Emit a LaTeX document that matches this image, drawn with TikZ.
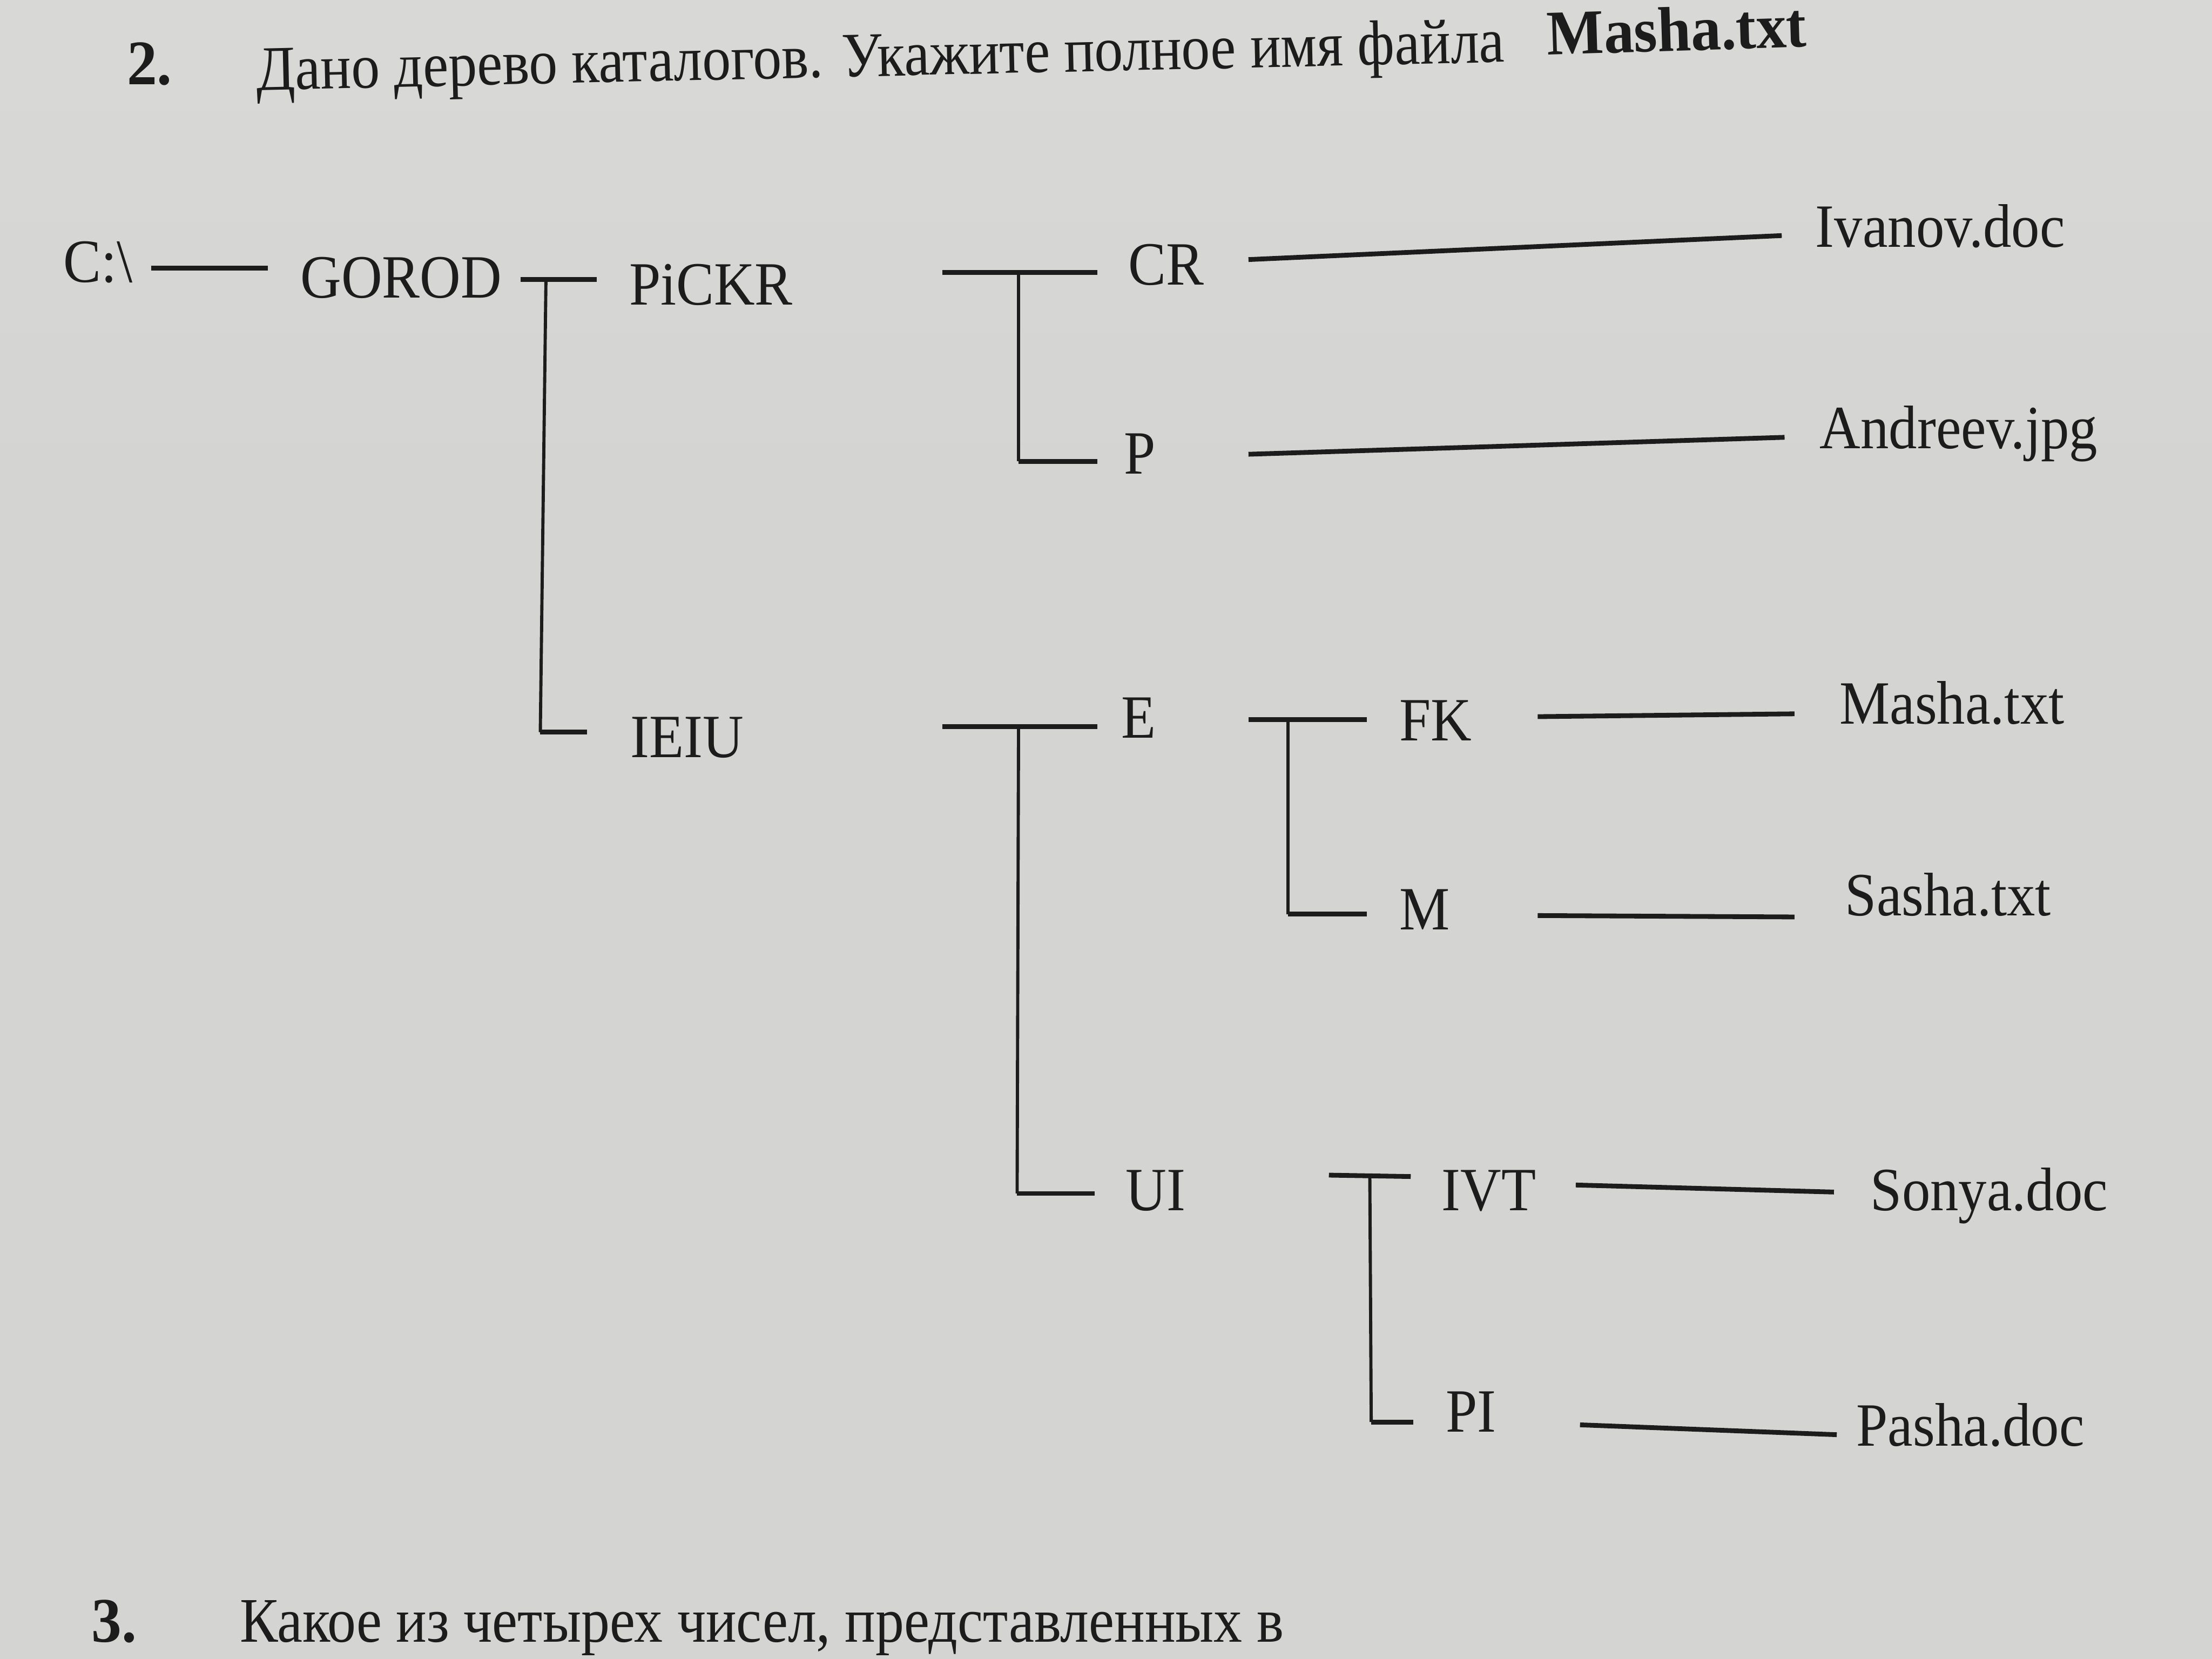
\documentclass[tikz,border=0pt]{standalone}
\usepackage{fontspec}
\setmainfont[FakeStretch=0.92]{Liberation Serif}
\newfontfamily\titlefont[FakeStretch=0.90]{Liberation Serif}
\newfontfamily\titlebold[FakeStretch=0.95]{Liberation Serif}
\definecolor{ink}{RGB}{28,28,28}
\definecolor{ptop}{RGB}{224,224,223}
\definecolor{pmid}{RGB}{212,212,211}
\definecolor{pbot}{RGB}{170,170,170}
\pgfdeclareverticalshading{paper}{100bp}{color(0bp)=(pbot); color(10bp)=(pmid); color(60bp)=(pmid); color(100bp)=(ptop)}
\tikzset{
  lbl/.style={anchor=base west, inner sep=0pt, outer sep=0pt, text=ink, font=\fontsize{31}{36}\selectfont},
  ttl/.style={anchor=base west, inner sep=0pt, outer sep=0pt, text=ink, font=\titlefont\fontsize{32}{38}\selectfont},
  ttlb/.style={anchor=base west, inner sep=0pt, outer sep=0pt, text=ink, font=\titlebold\bfseries\fontsize{32}{38}\selectfont},
  hbar/.style={draw=ink, line width=2.4pt},
  vbar/.style={draw=ink, line width=1.6pt},
}
\begin{document}
\begin{tikzpicture}[x=0.025cm, y=-0.025cm]
\useasboundingbox (0,0) rectangle (1568,1176);
\shade[shading=paper] (0,0) rectangle (1568,1176);
\begin{scope}
\clip (0,0) rectangle (1568,1176);
% title
\node[ttlb] (num2) at (90,60) {2.};
\node[ttl, rotate=1.3] (title) at (182,64) {Дано дерево каталогов. Укажите полное имя файла};
\node[ttlb, rotate=1.8] (titlefile) at (1097,39) {Masha.txt};
% bottom line of the next task
\node[ttlb] (num3) at (65,1164) {3.};
\node[ttl] (next) at (170,1164) {Какое из четырех чисел, представленных в};
% tree labels
\node[lbl] (croot) at (45,200) {C:\textbackslash};
\node[lbl] (gorod) at (213,211) {GOROD};
\node[lbl] (pickr) at (446,216) {PiCKR};
\node[lbl] (ieiu) at (447,537) {IEIU};
\node[lbl] (cr) at (800,202) {CR};
\node[lbl] (p) at (797,336) {P};
\node[lbl] (ivanov) at (1287,175) {Ivanov.doc};
\node[lbl] (andreev) at (1290,318) {Andreev.jpg};
\node[lbl] (e) at (795,523) {E};
\node[lbl] (ui) at (798,858) {UI};
\node[lbl] (fk) at (992,525) {FK};
\node[lbl] (m) at (992,659) {M};
\node[lbl] (masha) at (1304,513) {Masha.txt};
\node[lbl] (sasha) at (1308,649) {Sasha.txt};
\node[lbl] (ivt) at (1022,858) {IVT};
\node[lbl] (pi) at (1025,1015) {PI};
\node[lbl] (sonya) at (1326,858) {Sonya.doc};
\node[lbl] (pasha) at (1316,1025) {Pasha.doc};
% connector end points
\coordinate (c1a) at (107,190); \coordinate (c1b) at (190,190);
\coordinate (g1) at (369,198); \coordinate (g2) at (423,198);
\coordinate (gv) at (387,198); \coordinate (gb) at (383,519); \coordinate (gbe) at (416,519);
\coordinate (k1) at (668,193); \coordinate (k2) at (778,193);
\coordinate (kv) at (722,193); \coordinate (kb) at (722,327); \coordinate (kbe) at (778,327);
\coordinate (l1a) at (885,184); \coordinate (l1b) at (1263,167);
\coordinate (l2a) at (885,322); \coordinate (l2b) at (1265,310);
\coordinate (e1) at (668,515); \coordinate (e2) at (778,515);
\coordinate (ev) at (722,515); \coordinate (eb) at (721,846); \coordinate (ebe) at (776,846);
\coordinate (f1) at (885,510); \coordinate (f2) at (969,510);
\coordinate (fv) at (913,510); \coordinate (fb) at (913,648); \coordinate (fbe) at (969,648);
\coordinate (l3a) at (1090,508); \coordinate (l3b) at (1272,506);
\coordinate (l4a) at (1090,649); \coordinate (l4b) at (1272,650);
\coordinate (v1) at (942,833); \coordinate (v2) at (1000,834);
\coordinate (vv) at (971,833); \coordinate (vb) at (972,1008); \coordinate (vbe) at (1002,1008);
\coordinate (l5a) at (1117,840); \coordinate (l5b) at (1300,845);
\coordinate (l6a) at (1120,1010); \coordinate (l6b) at (1302,1017);
% connectors
\draw[hbar] (c1a) -- (c1b);
\draw[hbar] (g1) -- (g2);
\draw[vbar] (gv) -- (gb);
\draw[hbar] (gb) -- (gbe);
\draw[hbar] (k1) -- (k2);
\draw[vbar] (kv) -- (kb);
\draw[hbar] (kb) -- (kbe);
\draw[hbar] (l1a) -- (l1b);
\draw[hbar] (l2a) -- (l2b);
\draw[hbar] (e1) -- (e2);
\draw[vbar] (ev) -- (eb);
\draw[hbar] (eb) -- (ebe);
\draw[hbar] (f1) -- (f2);
\draw[vbar] (fv) -- (fb);
\draw[hbar] (fb) -- (fbe);
\draw[hbar] (l3a) -- (l3b);
\draw[hbar] (l4a) -- (l4b);
\draw[hbar] (v1) -- (v2);
\draw[vbar] (vv) -- (vb);
\draw[hbar] (vb) -- (vbe);
\draw[hbar] (l5a) -- (l5b);
\draw[hbar] (l6a) -- (l6b);
\end{scope}
\end{tikzpicture}
\end{document}
